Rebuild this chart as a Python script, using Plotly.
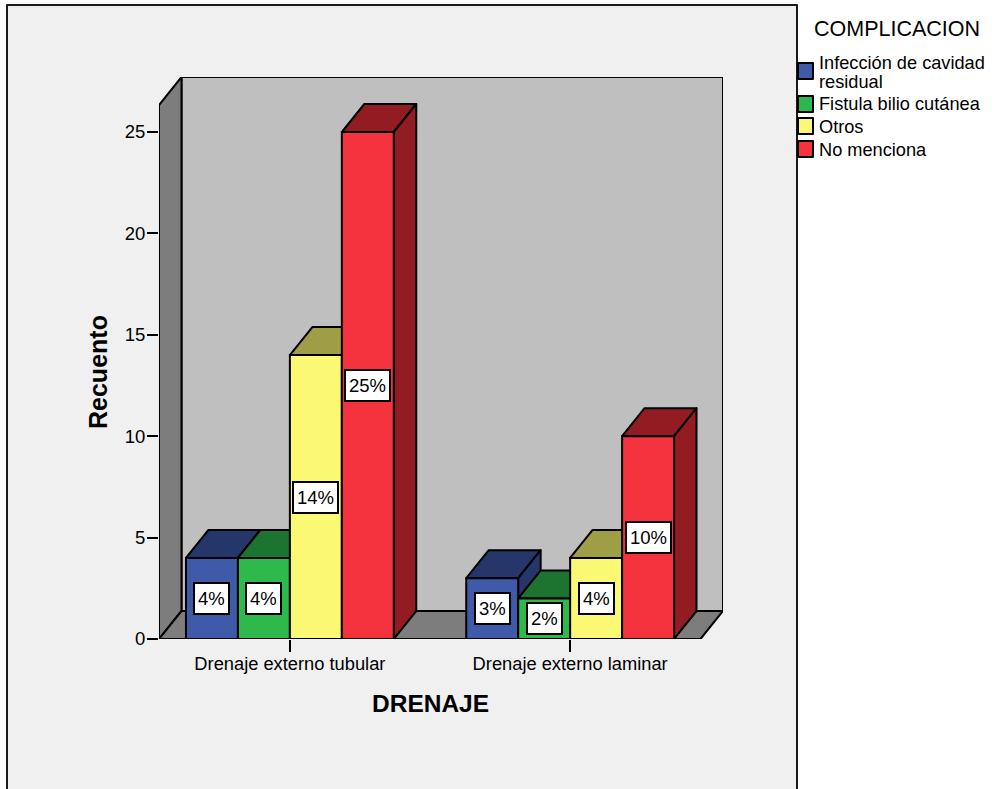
import plotly.graph_objects as go

categories = ["Drenaje externo tubular", "Drenaje externo laminar"]
series_names = ["Infección de cavidad\nresidual", "Fistula bilio cutánea", "Otros", "No menciona"]
infeccion = [4, 3]
fistula = [4, 2]
otros = [14, 4]
no_menciona = [25, 10]
series_values = [infeccion, fistula, otros, no_menciona]
front_colors = ["#3e5aa9", "#2eb94c", "#fbf874", "#f4333e"]
dark_colors = ["#25366b", "#1d7330", "#9f9d46", "#921c22"]
y_ticks = [0, 5, 10, 15, 20, 25]

W, H = 996, 789
L, R, T, B = 159, 723, 77, 639
PX_X = 280.5          # pixels per category step
PX_Y = 20.28          # pixels per count
DX = 22.5 / PX_X      # depth offset, x units
DY = 28 / PX_Y        # depth offset, y units
BAR_W = 52 / PX_X
X0 = (159 - 290) / PX_X
X1 = (701 - 290) / PX_X
YTOP = (639 - 105) / PX_Y

def px_x(px):
    return (px - L) / (R - L)

def px_y(py):
    return (B - py) / (B - T)

def poly(points, fill):
    path = "M" + " L".join(f"{x},{y}" for x, y in points) + " Z"
    return dict(type="path", path=path, xref="x", yref="y", fillcolor=fill,
                line=dict(color="black", width=2), layer="below")

shapes = [dict(type="rect", xref="paper", yref="paper", x0=px_x(7), x1=px_x(797),
               y0=px_y(800), y1=px_y(5), fillcolor="#f0f0f0",
               line=dict(color="#1a1a1a", width=2), layer="below")]
shapes.append(poly([(X0 + DX, DY), (X1 + DX, DY), (X1 + DX, YTOP + DY), (X0 + DX, YTOP + DY)], "#bfbfbf"))
shapes.append(poly([(X0, 0), (X0 + DX, DY), (X0 + DX, YTOP + DY), (X0, YTOP)], "#7d7d7d"))
shapes.append(poly([(X0, 0), (X0 + DX, DY), (X1 + DX, DY), (X1, 0)], "#7d7d7d"))

fig = go.Figure()
annotations = []
n = len(series_values)
for g in range(len(categories)):
    for s in range(n):
        v = series_values[s][g]
        left = g + (s - n / 2) * BAR_W
        right = left + BAR_W
        shapes.append(poly([(left, v), (left + DX, v + DY), (right + DX, v + DY), (right, v)], dark_colors[s]))
        shapes.append(poly([(right, 0), (right + DX, DY), (right + DX, v + DY), (right, v)], dark_colors[s]))

for s in range(n):
    xs = [g + (s + 0.5 - n / 2) * BAR_W for g in range(len(categories))]
    fig.add_trace(go.Bar(x=xs, y=series_values[s], width=BAR_W, name=series_names[s].replace("\n", " "),
                         marker=dict(color=front_colors[s], line=dict(color="black", width=2)),
                         showlegend=False))
    for x, v in zip(xs, series_values[s]):
        annotations.append(dict(x=x, y=v / 2, xref="x", yref="y", text=f"{v}%", showarrow=False,
                                xanchor="center", yanchor="middle",
                                font=dict(size=18.5, color="black"), bgcolor="white",
                                bordercolor="black", borderwidth=2, borderpad=3, height=23))

# Legend
TXT = dict(color="black", family="Liberation Sans")
annotations.append(dict(x=px_x(812), y=px_y(29), xref="paper", yref="paper", text="COMPLICACION",
                        showarrow=False, xanchor="left", yanchor="middle", font=dict(size=21.5, **TXT)))
swatch_rows = [(63, 79), (96, 112), (118, 134), (141, 157)]
text_rows = [[63, 82], [104], [127], [150]]
for s, name in enumerate(series_names):
    y0, y1 = swatch_rows[s]
    shapes.append(dict(type="rect", xref="paper", yref="paper", x0=px_x(798), x1=px_x(813),
                       y0=px_y(y1), y1=px_y(y0), fillcolor=front_colors[s],
                       line=dict(color="black", width=2)))
    for line, py in zip(name.split("\n"), text_rows[s]):
        annotations.append(dict(x=px_x(819), y=px_y(py), xref="paper", yref="paper", text=line,
                                showarrow=False, xanchor="left", yanchor="middle", xshift=-2,
                                font=dict(size=18.2, **TXT)))

# Axis titles
annotations.append(dict(x=px_x(430), y=px_y(703), xref="paper", yref="paper", text="<b>DRENAJE</b>",
                        showarrow=False, xanchor="center", yanchor="middle", font=dict(size=24.5, **TXT)))
annotations.append(dict(x=px_x(98), y=px_y(372), xref="paper", yref="paper", text="<b>Recuento</b>",
                        showarrow=False, xanchor="center", yanchor="middle", textangle=-90,
                        font=dict(size=25, **TXT)))

fig.update_layout(
    width=W, height=H, margin=dict(l=L, r=W - R, t=T, b=H - B, pad=0),
    paper_bgcolor="white", plot_bgcolor="rgba(0,0,0,0)",
    barmode="overlay", showlegend=False, shapes=shapes, annotations=annotations,
    font=dict(family="Liberation Sans", color="black", size=18),
    xaxis=dict(range=[X0, X1 + DX], tickvals=list(range(len(categories))), ticktext=categories,
               ticks="outside", ticklen=12, tickwidth=2, tickcolor="black", showgrid=False,
               zeroline=False, showline=False, tickfont=dict(size=18.3), ticklabelstandoff=-4),
    yaxis=dict(range=[0, YTOP + DY], tickvals=y_ticks, ticks="outside", ticklen=11, tickwidth=2,
               tickcolor="black", showgrid=False, zeroline=False, showline=False,
               tickfont=dict(size=18.5), ticklabelstandoff=-2),
)
post = """
document.body.style.margin='0';document.body.style.overflow='hidden';
var st=document.createElement('style');
st.textContent='.shapelayer path{stroke-linejoin:round !important}';
document.head.appendChild(st);
"""
fig.write_html("out.html", post_script=post, config={"displayModeBar": False})
